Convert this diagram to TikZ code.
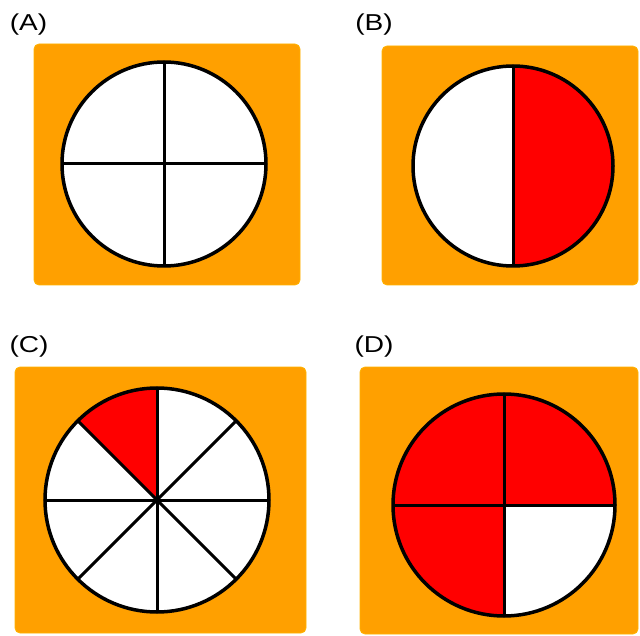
\documentclass[tikz,border=0pt]{standalone}
\usepackage{fontspec}
\setmainfont{Liberation Sans}
\definecolor{panelorange}{RGB}{255,160,0}
\definecolor{piered}{RGB}{255,0,0}
\begin{document}
\begin{tikzpicture}[x=1pt,y=-1pt,
  panel/.style={fill=panelorange,draw=panelorange!80!yellow,line width=0.8pt,rounded corners=5pt},
  rim/.style={draw=black,line width=3.5pt},
  divider/.style={draw=black,line width=3pt},
  tag/.style={font=\fontsize{23}{25}\selectfont,inner sep=0pt,xscale=1.22}]
\useasboundingbox (0,0) rectangle (640,636);
% ---------- (A)
\node[tag] (la) at (28.5,25) {(A)};
\path[panel] (34,44) rectangle (300,285);
\fill[white] (164,164) circle (102);
\draw[divider] (164,62) -- (164,266) (62,164) -- (266,164);
\draw[rim] (164,164) circle (102);
% ---------- (B)
\node[tag] (lb) at (374,25) {(B)};
\path[panel] (382,46) rectangle (638,285);
\fill[white] (513,166) circle (100);
\fill[piered] (513,66) arc[start angle=-90,end angle=90,radius=100] -- cycle;
\draw[divider] (513,66) -- (513,266);
\draw[rim] (513,166) circle (100);
% ---------- (C)
\node[tag] (lc) at (29,347) {(C)};
\path[panel] (15,367) rectangle (306,633);
\fill[white] (157,500) circle (112);
\fill[piered] (157,500) -- ++(0,-112) arc[start angle=-90,end angle=-135,radius=112] -- cycle;
\foreach \a in {0,45,...,315}
  \draw[divider] (157,500) -- ++(\a:112);
\fill (157,500) circle (3.5);
\draw[rim] (157,500) circle (112);
% ---------- (D)
\node[tag] (ld) at (374,347) {(D)};
\path[panel] (360,367) rectangle (638,634);
\fill[piered] (504,505) circle (111);
\fill[white] (504,505) -- ++(111,0) arc[start angle=0,end angle=90,radius=111] -- cycle;
\draw[divider] (504,394) -- (504,616) (393,505) -- (615,505);
\draw[rim] (504,505) circle (111);
\end{tikzpicture}
\end{document}
